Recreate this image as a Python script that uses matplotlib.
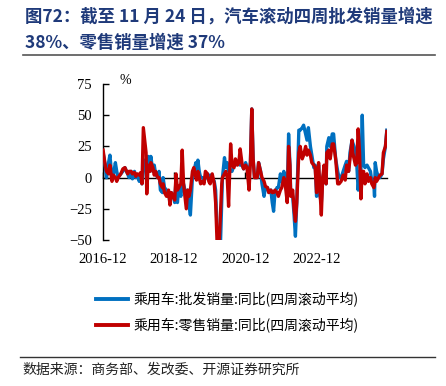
import matplotlib
matplotlib.use("Agg")
import matplotlib.pyplot as plt
import pandas as pd
import numpy as np

plt.rcParams['font.family'] = ['Liberation Serif', 'Noto Sans CJK SC', 'DejaVu Sans']

# week offsets from first observation (2016-12-02)
weeks = [0, 3, 5, 8, 10, 13, 15, 18, 20, 22, 26, 29, 32, 36, 38, 41, 43, 46, 48, 50,
         53, 55, 57, 59, 61, 63, 64, 66, 69, 70, 73, 75, 77, 80, 82, 84, 87, 88, 90, 93,
         96, 98, 100, 103, 105, 107, 109, 111, 114, 116, 118, 120, 122, 124, 126, 128, 131, 133, 136, 137,
         139, 141, 143, 146, 148, 150, 153, 155, 157, 160, 163, 165, 167, 170, 172, 174, 175, 178, 180, 182,
         184, 187, 189, 192, 194, 197, 199, 201, 204, 206, 209, 211, 214, 216, 218, 220, 222, 224, 226, 228,
         231, 233, 236, 238, 241, 243, 246, 248, 250, 252, 255, 257, 260, 262, 265, 267, 270, 272, 274, 275,
         278, 280, 282, 284, 287, 289, 292, 294, 297, 299, 301, 304, 306, 309, 311, 313, 315, 316, 318, 320,
         322, 324, 327, 328, 331, 333, 336, 338, 341, 344, 346, 349, 352, 355, 357, 360, 362, 365, 366, 368,
         370, 372, 374, 376, 378, 380, 382, 384, 387, 389, 392, 394, 397, 398, 399, 401, 404, 406, 409, 411,
         414, 416]

wholesale = [20, 10, 0, 12, 18, 0, 2, 12, 5, 0, 3, 5, 8, 3, 0, 5, -1, 5, 0, 2,
             -3, 0, -5, 5, 10, 15, 12, 17, 10, 17, 5, 10, 3, 0, 5, -10, -12, 0, -8, -10,
             -12, -20, -12, -15, -20, 0, -20, -8, -15, -5, -5, -10, -20, -10, -22, -30, 0, 5, 12, 5,
             14, 5, 0, 0, -3, 0, 3, 0, 2, 0, -3, -10, -40, -55, -55, -20, 0, 16, 8, 12,
             5, 5, 5, 10, 10, 12, 12, 10, 10, 7, 12, 8, 5, 12, 55, 15, 0, 0, 0, 12,
             5, -5, -15, -8, -8, -12, -10, -20, -27, -12, -8, -8, 3, -3, 5, 0, -15, 35, 10, -10,
             -15, -30, -47, -20, 38, 38, 40, 42, 35, 30, 40, 25, 18, 8, 10, -15, 0, 10, -15, -20,
             0, 5, -5, 25, 32, 25, 35, 35, 15, 5, 0, 0, 5, 10, 13, 5, 20, 30, 28, 25,
             20, 10, -10, 5, 5, 50, 10, 8, 10, 8, 5, -3, -5, -15, 12, 5, 0, 0, 3, 15,
             25, 38]

retail = [22, 10, 5, 3, 10, -3, 2, 0, -3, 0, 3, 7, 8, 3, 5, 5, 3, 4, 1, 3,
          2, 4, -5, 40, 30, 20, -13, 10, 5, 12, 8, 2, 5, 0, 0, -5, -8, -5, -12, -15,
          -10, -22, -12, -15, -18, 3, -10, -8, -5, 22, -5, -15, -25, -10, -15, -10, 5, 8, 0, -2,
          5, 0, -5, -3, -5, 5, 3, -3, -5, 3, -5, -20, -50, -55, -30, -5, 0, 3, 5, 0,
          -23, 27, 10, 8, 15, 10, 12, 23, 10, 7, 10, 8, -10, 12, 55, 15, 0, 0, 0, 12,
          5, 0, -3, -7, -8, -12, -10, -12, -12, -10, -12, -15, -10, -8, 0, -5, -20, 25, 10, -15,
          -10, -25, -35, -20, 20, 25, 15, 18, 25, 18, 22, 18, 12, 10, 8, -12, 5, 12, -10, -30,
          0, 10, -5, 20, 22, 15, 27, 27, 15, -5, -5, -3, 2, -2, 10, 5, 15, 30, 20, 15,
          10, 12, 39, 20, -17, 5, 5, -5, 3, -3, 0, -5, -8, -5, 0, -3, 0, 2, 3, 20,
          25, 37]

xtick_labels = ['2016-12', '2018-12', '2020-12', '2022-12']
yticks = [-50, -25, 0, 25, 50, 75]
series_names = ['乘用车:批发销量:同比(四周滚动平均)', '乘用车:零售销量:同比(四周滚动平均)']
title_lines = ['图72：截至 11 月 24 日，汽车滚动四周批发销量增速', '38%、零售销量增速 37%']
source = '数据来源：商务部、发改委、开源证券研究所'

dates = pd.Timestamp('2016-12-02') + pd.to_timedelta(np.array(weeks) * 7, unit='D')

W, H = 446, 386
fig = plt.figure(figsize=(W / 100, H / 100), dpi=100)
ax = fig.add_axes([103 / W, 1 - 240 / H, (387 - 103) / W, (240 - 84) / H])

ax.plot(dates, wholesale, color='#0070C0', lw=2.4, zorder=3, label=series_names[0])
ax.plot(dates, retail, color='#C00000', lw=2.4, zorder=4, label=series_names[1])

ax.set_ylim(-50, 75)
ax.set_yticks(yticks)
ax.set_xlim(pd.Timestamp('2016-12-01'), dates[-1] + pd.Timedelta(days=2))
tick_dates = [pd.Timestamp(s + '-01') for s in xtick_labels]
ax.set_xticks(tick_dates)
ax.set_xticklabels(xtick_labels)

for s in ['top', 'right']:
    ax.spines[s].set_visible(False)
ax.spines['bottom'].set_position(('data', 0))
ax.spines['bottom'].set_linewidth(1.0)
ax.spines['left'].set_linewidth(1.0)
ax.spines['bottom'].set_zorder(2.6)

ax.tick_params(axis='y', direction='in', length=4, width=1, labelsize=10.5, pad=8, colors='black')
ax.tick_params(axis='x', direction='in', length=4, width=1, labelsize=10.5, pad=54)
for lab in ax.get_yticklabels() + ax.get_xticklabels():
    lab.set_fontfamily(['Liberation Serif'])

fig.text(125 / W, 1 - 80 / H, '%', fontsize=10, ha='center', va='center',
         family=['Liberation Serif'])

# title
for i, t in enumerate(title_lines):
    fig.text(25 / W, 1 - (17 + 26 * i) / H, t, fontsize=12.5, fontweight='bold', color='#1f3a7a',
             ha='left', va='center', family=['Noto Sans CJK SC', 'DejaVu Sans'])

fig.add_artist(plt.Line2D([23 / W, 435 / W], [1 - 55 / H, 1 - 55 / H], color='#555555', lw=1.2))
fig.add_artist(plt.Line2D([20 / W, 435 / W], [1 - 357 / H, 1 - 357 / H], color='#333333', lw=1.0))

leg = fig.legend(loc='upper left', bbox_to_anchor=(96 / W, 1 - 292 / H), frameon=False,
                 prop={'family': ['Noto Sans CJK SC', 'DejaVu Sans'], 'size': 10},
                 handlelength=2.3, handletextpad=0.4, labelspacing=0.75, borderpad=0, borderaxespad=0)
for line in leg.get_lines():
    line.set_linewidth(2.8)

fig.text(22 / W, 1 - 370 / H, source, fontsize=10, color='#222222', ha='left', va='center',
         family=['Noto Sans CJK SC', 'DejaVu Sans'])

fig.savefig('out.png', dpi=100)
